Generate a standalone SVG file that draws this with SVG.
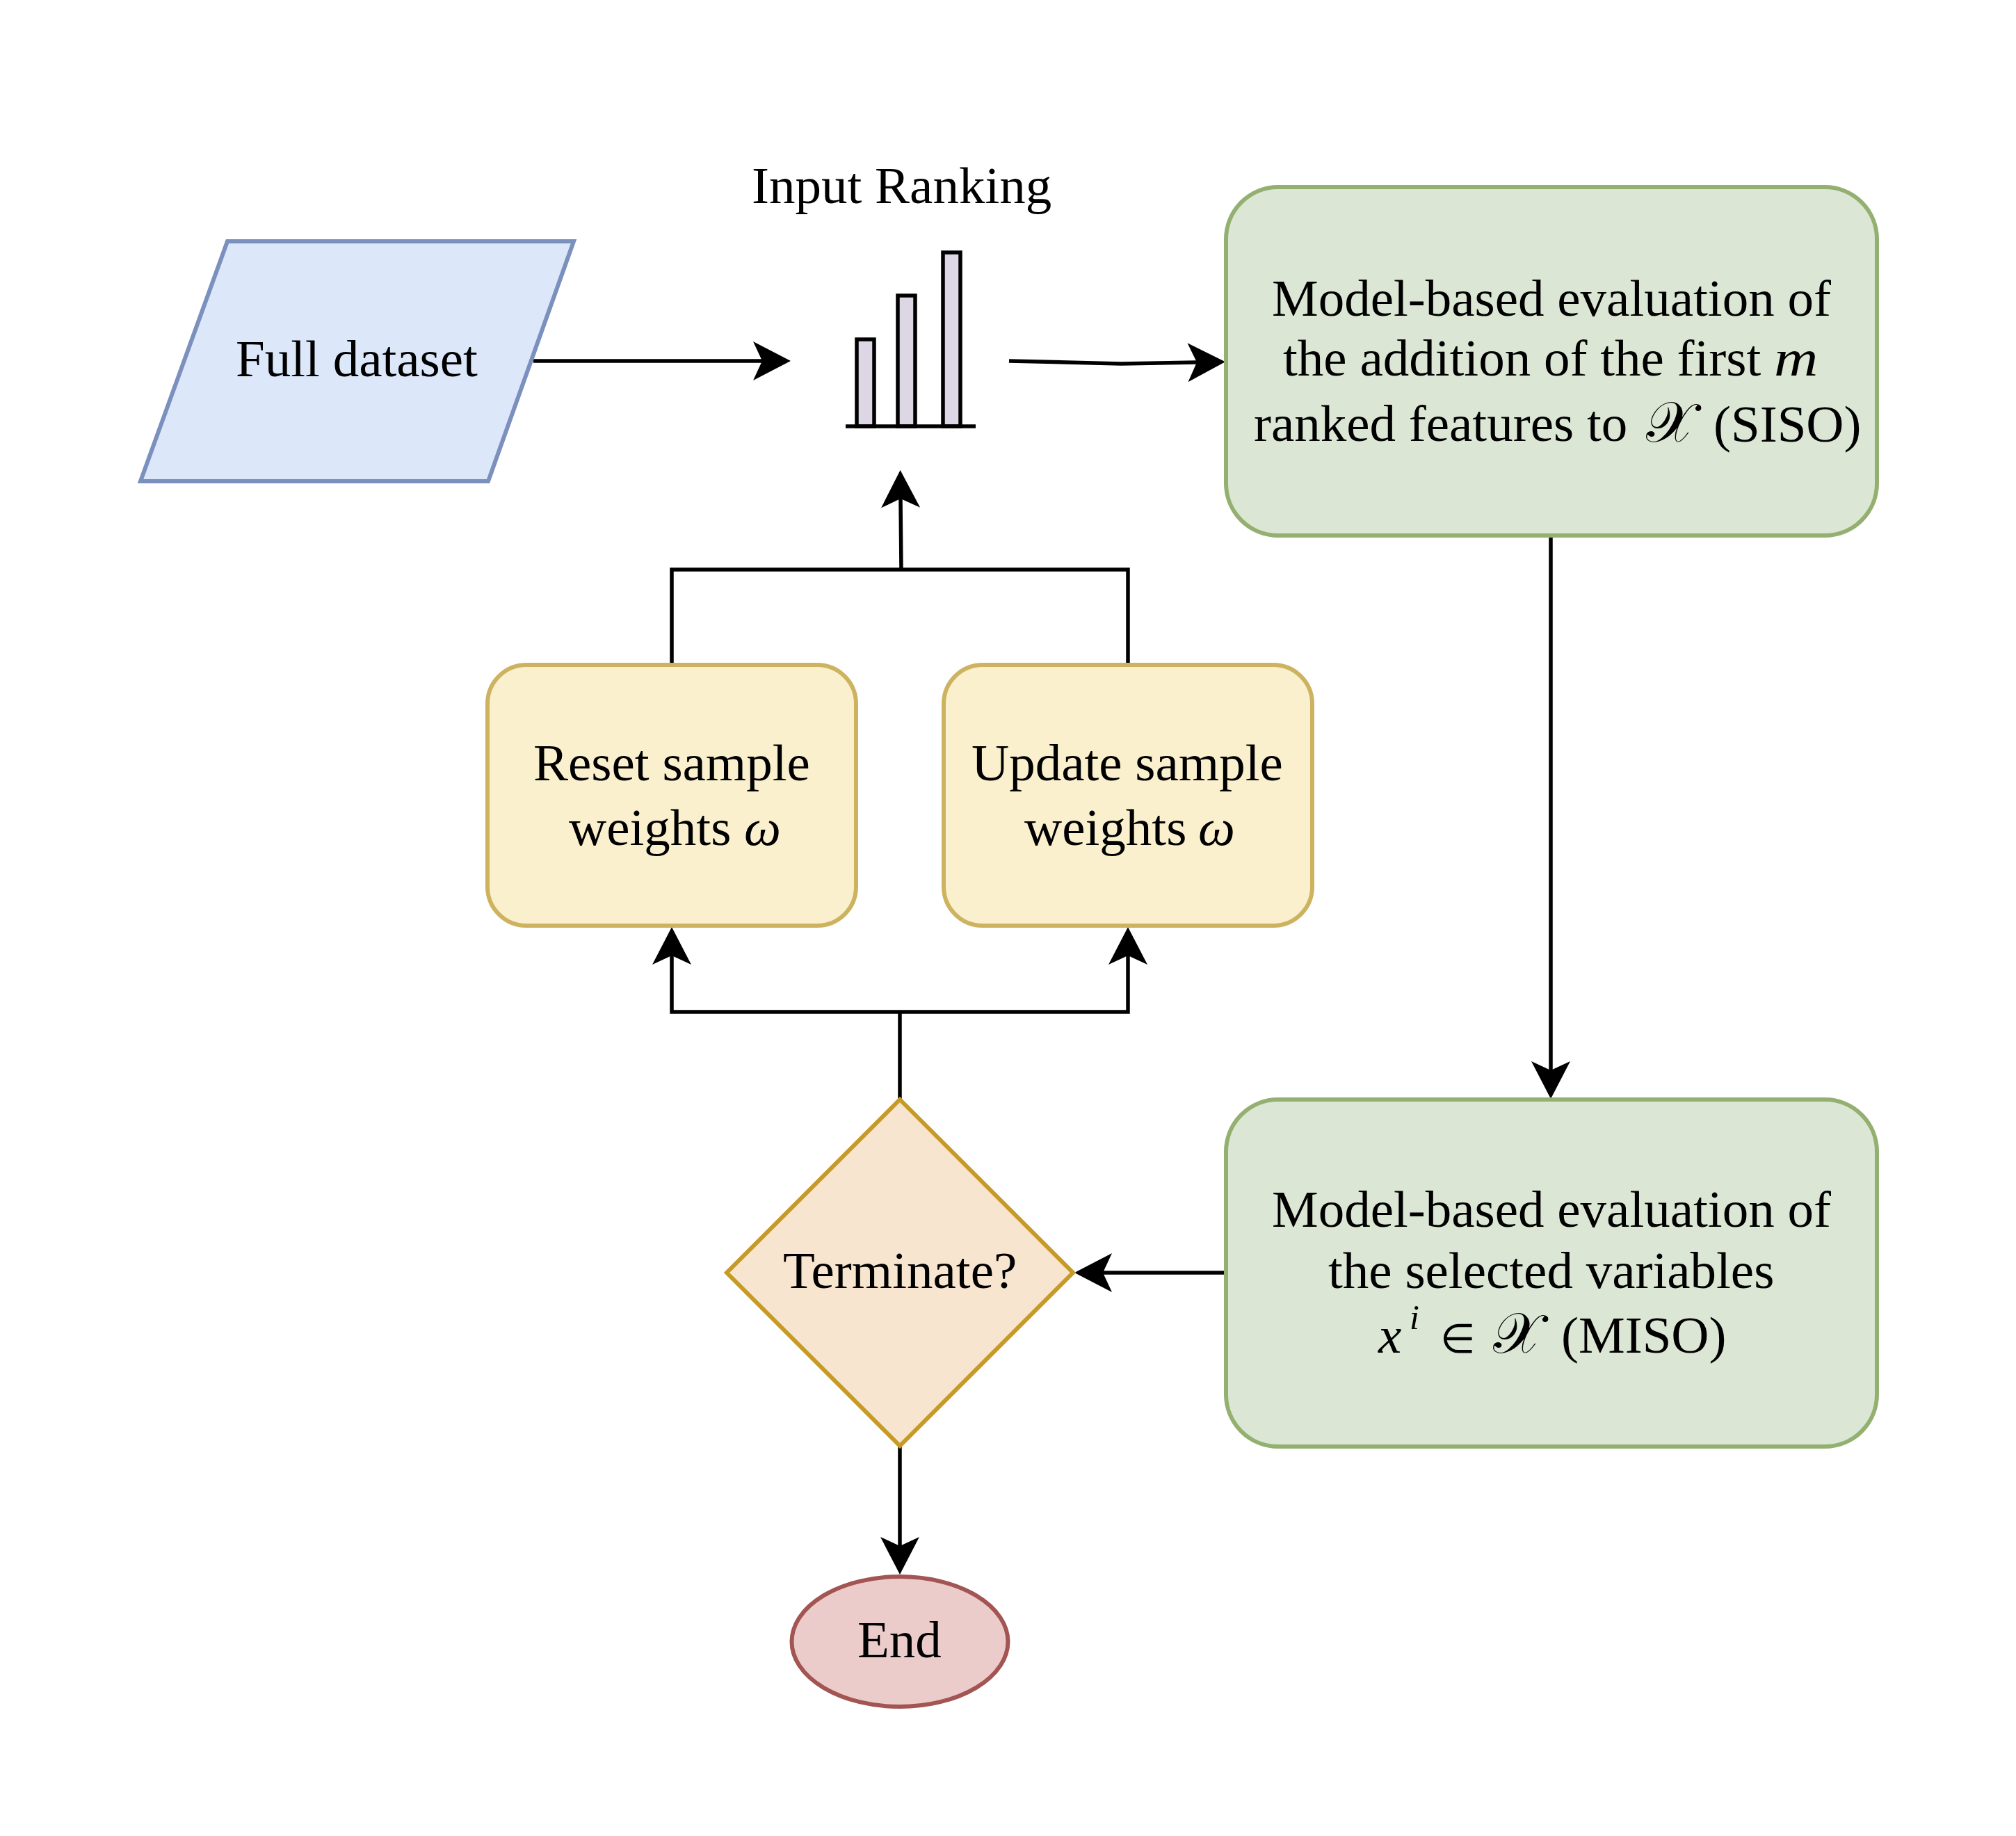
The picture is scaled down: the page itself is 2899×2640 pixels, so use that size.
<svg xmlns="http://www.w3.org/2000/svg" width="2899" height="2640" viewBox="0 0 2899 2640">
<style>
text{font-family:"Liberation Serif","Times New Roman",serif;font-size:75px;fill:#000}
.m{font-style:italic}
.s{font-size:82px}
.n{stroke-width:6}
.c{fill:none;stroke:#000;stroke-width:5.5}
.a{marker-end:url(#arrow)}
.green{fill:#dbe6d5;stroke:#93b070}
.yellow{fill:#faf0ce;stroke:#cdb35f}
.bar{fill:#ddd6e5;stroke:#000;stroke-width:5.5}
</style>
<defs>
<marker id="arrow" markerUnits="userSpaceOnUse" markerWidth="54" markerHeight="56" viewBox="0 0 54 56" refX="13" refY="28" orient="auto" overflow="visible">
<path d="M54 28L0 0L13 28L0 56Z" fill="#000"/>
</marker>
</defs>
<rect width="2899" height="2640" fill="#fff"/>
<g id="connectors">
<path class="c a" d="M767 519H1096"/>
<path class="c a" d="M1451 519L1612 523L1721 521"/>
<path class="c a" d="M2230 770V1539"/>
<path class="c a" d="M1762 1830H1586"/>
<path class="c a" d="M1296 819L1295 717"/>
<path class="c" d="M966 956V819H1622V956"/>
<path class="c" d="M1294 1582V1455"/>
<path class="c a" d="M1294 1455H966V1374"/>
<path class="c a" d="M1294 1455H1622V1374"/>
<path class="c a" d="M1294 2080V2223"/>
</g>
<g id="full-dataset">
<path class="n" fill="#dce7fa" stroke="#7b90bd" d="M327 347H825L702 692H202Z"/>
<text x="339" y="541">Full dataset</text>
</g>
<g id="input-ranking">
<text x="1081" y="292">Input Ranking</text>
<rect class="bar" x="1232" y="488" width="25" height="125"/>
<rect class="bar" x="1291" y="425" width="25" height="188"/>
<rect class="bar" x="1356" y="363" width="25" height="250"/>
<path class="c" d="M1216 613H1403"/>
</g>
<g id="eval-siso">
<rect class="n green" x="1763" y="269" width="936" height="501" rx="75" ry="75"/>
<text x="1829" y="454">Model-based evaluation of</text>
<text x="1845" y="540">the addition of the first</text>
<text transform="translate(2551 540) scale(1.17 1)" class="m">m</text>
<text x="1803" y="634">ranked features to <tspan class="s" x="2367" y="635">𝒳</tspan><tspan x="2464" y="635">(SISO)</tspan></text>
</g>
<g id="reset-weights">
<rect class="n yellow" x="701" y="956" width="530" height="375" rx="56" ry="56"/>
<text x="767" y="1122">Reset sample</text>
<text x="818" y="1215">weights <tspan class="m" x="1070">ω</tspan></text>
</g>
<g id="update-weights">
<rect class="n yellow" x="1357" y="956" width="530" height="375" rx="56" ry="56"/>
<text x="1397" y="1122">Update sample</text>
<text x="1473" y="1215">weights <tspan class="m" x="1723">ω</tspan></text>
</g>
<g id="eval-miso">
<rect class="n green" x="1763" y="1581" width="936" height="499" rx="75" ry="75"/>
<text x="1829" y="1764">Model-based evaluation of</text>
<text x="1910" y="1852">the selected variables</text>
<text x="1982" y="1945"><tspan class="m">x</tspan><tspan class="m" font-size="50" x="2027" y="1911">i</tspan><tspan font-size="58" x="2071" y="1945">∈</tspan><tspan class="s" x="2147">𝒳</tspan><tspan x="2245">(MISO)</tspan></text>
</g>
<g id="terminate">
<path class="n" fill="#f8e5cf" stroke="#c69a27" d="M1294 1581L1543 1830L1294 2079L1045 1830Z"/>
<text x="1126" y="1852">Terminate?</text>
</g>
<g id="end">
<ellipse class="n" cx="1294" cy="2360.500" rx="155.500" ry="93.500" fill="#ebcccb" stroke="#a25553"/>
<text x="1233" y="2383">End</text>
</g>
</svg>
